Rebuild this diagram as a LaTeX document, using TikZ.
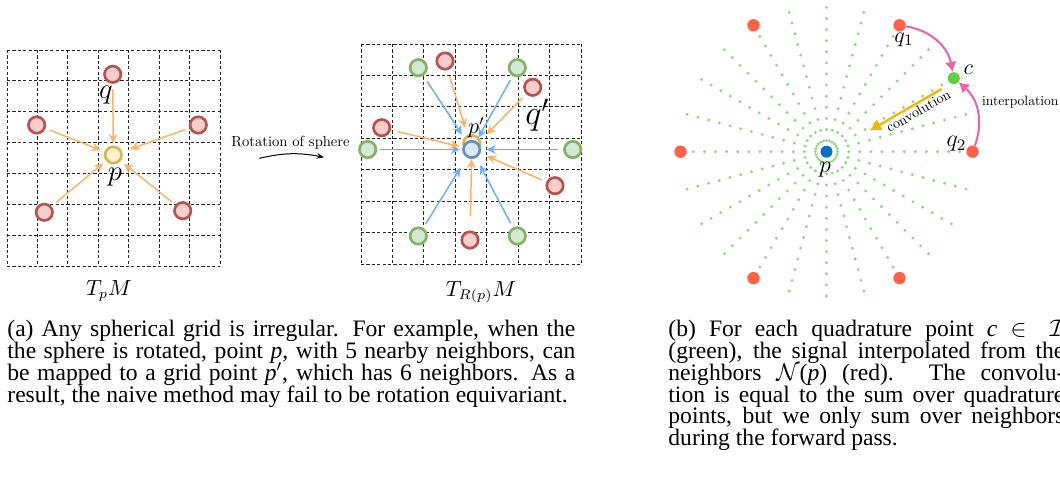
\documentclass[tikz,border=0pt]{standalone}
\usepackage{fontspec}
\newfontfamily\capfont{Liberation Serif}
\newfontfamily\lblfont{lmroman10-regular.otf}
\newcommand\tightlines{\lineskiplimit-20pt\relax}
\usepackage{tikz}
\usetikzlibrary{arrows.meta, positioning, calc}
\definecolor{redline}{RGB}{184,84,80}
\definecolor{redfill}{RGB}{248,206,204}
\definecolor{yelline}{RGB}{214,182,86}
\definecolor{yelfill}{RGB}{255,242,204}
\definecolor{grnline}{RGB}{130,179,102}
\definecolor{grnfill}{RGB}{213,232,212}
\definecolor{bluline}{RGB}{108,142,191}
\definecolor{blufill}{RGB}{218,232,252}
\definecolor{arrorange}{RGB}{255,179,102}
\definecolor{arrblue}{RGB}{102,178,255}
\definecolor{dotgreen}{RGB}{140,214,130}
\definecolor{nbred}{RGB}{255,99,71}
\definecolor{ctrblue}{RGB}{0,114,189}
\definecolor{quadgreen}{RGB}{96,208,64}
\definecolor{interpink}{RGB}{236,96,164}
\definecolor{convgold}{RGB}{245,184,0}

\begin{document}
\begin{tikzpicture}[x=0.5pt, y=-0.5pt, >=Stealth]
  \tikzstyle{gridline} = [black!85, line width=0.45pt, dash pattern=on 1.6pt off 1.1pt]
  \tikzstyle{nbpt} = [circle, draw=redline, fill=redfill, line width=1.35pt, minimum size=8.2pt, inner sep=0pt]
  \tikzstyle{ctrpt} = [nbpt, draw=yelline, fill=yelfill]
  \tikzstyle{newpt} = [nbpt, draw=grnline, fill=grnfill]
  \tikzstyle{rotpt} = [nbpt, draw=bluline, fill=blufill]
  \tikzstyle{oarrow} = [-{Stealth[length=4.6pt, width=4.4pt]}, line width=0.75pt, arrorange, shorten <=2.8pt, shorten >=2pt]
  \tikzstyle{barrow} = [oarrow, arrblue]
  \tikzstyle{sdot} = [circle, inner sep=0pt, minimum size=6.2pt]
  \tikzstyle{lbl} = [inner sep=0pt]
  \tikzstyle{captxt} = [inner sep=0pt, anchor=north west, align=justify, font=\capfont\fontsize{11.8}{10.9}\selectfont\tightlines]

  \useasboundingbox (0,0) rectangle (1060,480);
  \clip (0,0) rectangle (1060,480);

  % dashed tangent planes
  \foreach \i in {0,...,7} {
    \draw[gridline] ({7+30.43*\i},50) -- ({7+30.43*\i},266);
    \draw[gridline] (7,{50+30.86*\i}) -- (220,{50+30.86*\i});
    \draw[gridline] ({361+31.43*\i},44) -- ({361+31.43*\i},264);
    \draw[gridline] (361,{44+31.43*\i}) -- (581,{44+31.43*\i});
  }

  % T_p M
  \node[nbpt] (q) at (112.7,74.3) {};
  \node[nbpt] (nl) at (36.7,125) {};
  \node[nbpt] (nr) at (198.3,125) {};
  \node[nbpt] (nbl) at (44.3,212.3) {};
  \node[nbpt] (nbr) at (182.7,210.7) {};
  \node[ctrpt] (p) at (113.3,155) {};

  \draw[oarrow, shorten <=2.7pt, shorten >=1.1pt] (q) -- (p);
  \draw[oarrow, shorten <=2.1pt] (nl) -- (p);
  \draw[oarrow, shorten <=2.2pt, shorten >=4.2pt] (nr) -- (p);
  \draw[oarrow, shorten <=3pt, shorten >=1.7pt] (nbl) -- (p);
  \draw[oarrow, shorten <=2.2pt, shorten >=2.1pt] (nbr) -- (p);

  \node[lbl, font=\fontsize{13.6}{13.6}\selectfont] (qlab) at (106,95) {$q$};
  \node[lbl, font=\fontsize{14}{14}\selectfont] (plab) at (115,177) {$p$};
  \node[lbl, font=\fontsize{10.5}{10.5}\selectfont] (tp) at (109,291) {$T_pM$};

  % rotation
  \node[lbl, font=\lblfont\fontsize{7.3}{7.3}\selectfont] (rotlab) at (290.5,142.5) {Rotation of sphere};
  \coordinate (rotA) at (259.3,158.3);
  \coordinate (rotB) at (324,157.3);
  \draw[-{Stealth[length=3.6pt, width=2.8pt]}, line width=0.5pt] (rotA) to[bend left=12] (rotB);

  % T_R(p) M
  \node[ctrpt] (pold) at (471.7,143.5) {};
  \node[rotpt] (pr) at (471.7,149.5) {};
  \node[newpt] (g1) at (418.3,67.7) {};
  \node[newpt] (g2) at (517.3,67.7) {};
  \node[newpt] (g3) at (367.7,149.5) {};
  \node[newpt] (g4) at (572.7,149.5) {};
  \node[newpt] (g5) at (418.3,236) {};
  \node[newpt] (g6) at (517.3,236) {};
  \node[nbpt] (r1) at (445,61) {};
  \node[nbpt] (r2) at (532.7,87.3) {};
  \node[nbpt] (r3) at (381.7,127.7) {};
  \node[nbpt] (r4) at (555,185.7) {};
  \node[nbpt] (r5) at (470,240) {};

  \draw[barrow, shorten <=3.4pt, shorten >=4.2pt] (g1) -- (pr);
  \draw[barrow, shorten <=2.4pt, shorten >=2.1pt] (g2) -- (pr);
  \draw[barrow, shorten <=1.4pt, shorten >=1.1pt] (g3) -- (pr);
  \draw[barrow, shorten <=2.4pt, shorten >=2.7pt] (g4) -- (pr);
  \draw[barrow, shorten <=2.2pt, shorten >=6pt] (g5) -- (pr);
  \draw[barrow, shorten <=2.6pt, shorten >=4pt] (g6) -- (pr);
  \draw[oarrow, shorten <=3.2pt, shorten >=6.5pt] (r1) -- (pr);
  \draw[oarrow, shorten <=2.7pt, shorten >=5.9pt] (r2) -- (pr);
  \draw[oarrow, shorten <=3.2pt, shorten >=1.5pt] (r3) -- (pr);
  \draw[oarrow, shorten <=2.4pt, shorten >=3.5pt] (r4) -- (pr);
  \draw[oarrow, shorten <=7.3pt, shorten >=0pt] (r5) -- (pr);

  \node[lbl, font=\fontsize{10.5}{10.5}\selectfont] (prlab) at (476.5,127.5) {$p'$};
  \node[lbl, font=\fontsize{18}{18}\selectfont] (qrlab) at (537.3,115) {$q'$};
  \node[lbl, font=\fontsize{10.5}{10.5}\selectfont] (trp) at (481,292) {$T_{R(p)}M$};

  % quadrature rays around p
  \begin{scope}[shift={(826.5,151.7)}]
    \foreach \a in {0,15,...,345}
      \foreach \k in {1,...,13}
        \fill[dotgreen] (\a:{11.1*\k}) circle (0.8pt);
  \end{scope}

  \node[sdot, fill=ctrblue, minimum size=6pt] (pc) at (826.5,151.7) {};
  \node[sdot, fill=nbred] (q1) at ($(pc)+(-60:146)$) {};
  \node[sdot, fill=nbred] (n2) at ($(pc)+(-120:146)$) {};
  \node[sdot, fill=nbred] (n3) at ($(pc)+(180:146)$) {};
  \node[sdot, fill=nbred] (n4) at ($(pc)+(120:146)$) {};
  \node[sdot, fill=nbred] (n5) at ($(pc)+(60:146)$) {};
  \node[sdot, fill=nbred] (q2) at ($(pc)+(0:146)$) {};
  \node[sdot, fill=quadgreen, minimum size=6pt] (c) at ($(pc)+(-30:147)$) {};

  \draw[-{Latex[length=5pt, width=6pt]}, line width=1pt, interpink] (q1) to[bend left=35] (c);
  \draw[-{Latex[length=5pt, width=6pt]}, line width=1pt, interpink] (q2) to[bend right=35] (c);
  \draw[-{Latex[length=6pt, width=6.5pt]}, line width=1.2pt, convgold, shorten <=4.8pt, shorten >=20.5pt, transform canvas={shift={(1.7,2.8)}}] (c) -- (pc);

  \node[lbl, font=\fontsize{11}{11}\selectfont] (q1lab) at (904,40) {$q_1$};
  \node[lbl, font=\fontsize{11}{11}\selectfont] (clab) at (968.3,70) {$c$};
  \node[lbl, font=\fontsize{11.5}{11.5}\selectfont] (q2lab) at (956.5,144) {$q_2$};
  \node[lbl, font=\fontsize{12}{12}\selectfont] (pclab) at (825,169.3) {$p$};
  \node[lbl, rotate=29.6, font=\lblfont\fontsize{7.1}{7.1}\selectfont] (convlab) at (918.3,110.8) {convolution};
  \node[lbl, font=\lblfont\fontsize{6.8}{6.8}\selectfont] (interlab) at (1020.3,101.7) {interpolation};

  % captions
  \node[captxt, text width=284pt] (capa) at (7,320) {(a) Any spherical grid is irregular. For example, when the\linebreak the sphere is rotated, point \textit{p}, with 5 nearby neighbors, can\linebreak be mapped to a grid point \textit{p}$'$, which has 6 neighbors. As a\linebreak result, the naive method may fail to be rotation equivariant.};
  \node[captxt, text width=198pt] (capb) at (668,320) {(b) For each quadrature point \textit{c} $\in \mathcal{I}$\linebreak (green), the signal interpolated from the\linebreak neighbors $\mathcal{N}$(\textit{p}) (red). The convolu-\linebreak tion is equal to the sum over quadrature\linebreak points, but we only sum over neighbors\linebreak during the forward pass.};
\end{tikzpicture}
\end{document}
